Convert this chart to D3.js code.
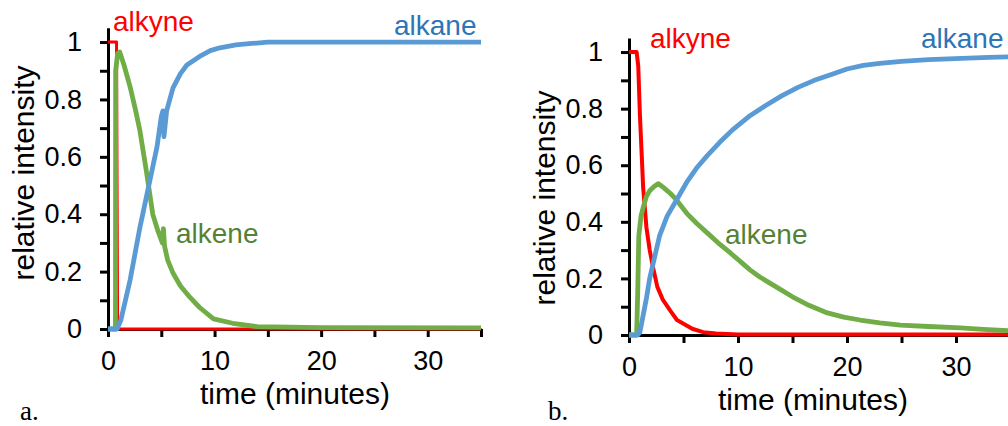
<!DOCTYPE html>
<html>
<head>
<meta charset="utf-8">
<script src="https://cdn.jsdelivr.net/npm/d3@7"></script>
<style>
  body { margin: 0; background: #fff; }
  text { font-family: "Liberation Sans", Arial, sans-serif; }
</style>
</head>
<body>
<div id="chart"></div>
<script>
// tick values and labels shared by both panels
const yTicks = [0, 0.1, 0.2, 0.3, 0.4, 0.5, 0.6, 0.7, 0.8, 0.9, 1];
const yTickLabels = ["0", "", "0.2", "", "0.4", "", "0.6", "", "0.8", "", "1"];
const xTicks = [0, 5, 10, 15, 20, 25, 30, 35];
const xTickLabels = ["0", "", "10", "", "20", "", "30", ""];

// panel a: time (minutes) and relative intensity
const alkyneA_t = [0, 0.8, 0.9, 1.0, 35];
const alkyneA = [1, 1, 0.02, 0, 0];

const alkeneA_t = [0, 0.7, 0.72, 0.9, 1.1, 1.5, 2.1, 2.6, 3.0, 3.6, 4.2, 4.7, 5.1, 5.2, 5.3, 5.6, 6.1, 6.8, 7.7, 8.6, 9.9, 11.7, 14, 20, 35];
const alkeneA = [0, 0, 0.9, 0.96, 0.965, 0.92, 0.84, 0.76, 0.69, 0.55, 0.4, 0.34, 0.3, 0.35, 0.29, 0.24, 0.195, 0.15, 0.11, 0.075, 0.035, 0.02, 0.008, 0.005, 0.004];

const alkaneA_t = [0, 0.85, 1.2, 2.07, 3.0, 3.8, 4.6, 5.0, 5.15, 5.25, 5.5, 6.1, 6.8, 7.4, 8.6, 9.6, 10.5, 12, 13.5, 15, 35];
const alkaneA = [0, 0, 0.03, 0.17, 0.355, 0.495, 0.635, 0.74, 0.76, 0.67, 0.76, 0.84, 0.89, 0.92, 0.95, 0.97, 0.98, 0.99, 0.995, 1.0, 1.0];

// panel b
const alkyneB_t = [0, 0.7, 0.85, 1.0, 1.3, 1.6, 1.9, 2.2, 2.6, 3.1, 3.8, 4.4, 5.0, 5.8, 6.8, 8, 10, 35];
const alkyneB = [1, 1, 0.95, 0.78, 0.52, 0.38, 0.3, 0.24, 0.17, 0.125, 0.085, 0.053, 0.04, 0.022, 0.01, 0.005, 0.002, 0.002];

const alkeneB_t = [0, 0.7, 0.8, 0.9, 1.1, 1.3, 1.6, 1.9, 2.3, 2.7, 3.2, 3.8, 4.3, 5.3, 6.2, 7.2, 8.2, 9.3, 10.2, 11.1, 12, 13.5, 15, 16.5, 18.2, 19.7, 21.2, 23, 24.9, 27.5, 30.4, 32.5, 35];
const alkeneB = [0, 0, 0.15, 0.35, 0.42, 0.45, 0.49, 0.51, 0.525, 0.535, 0.52, 0.5, 0.48, 0.43, 0.395, 0.36, 0.325, 0.29, 0.26, 0.23, 0.205, 0.17, 0.135, 0.105, 0.078, 0.063, 0.053, 0.043, 0.035, 0.03, 0.025, 0.02, 0.015];

const alkaneB_t = [0, 0.8, 1.0, 1.3, 1.6, 1.9, 2.2, 2.8, 3.5, 4.4, 5.3, 6.2, 7.2, 8.3, 9.5, 11.1, 12.5, 14, 15.5, 17, 18.5, 20, 21.5, 23, 25, 27.5, 30.5, 33, 35];
const alkaneB = [0, 0, 0.01, 0.07, 0.13, 0.2, 0.25, 0.35, 0.42, 0.48, 0.54, 0.59, 0.635, 0.68, 0.725, 0.775, 0.81, 0.845, 0.875, 0.9, 0.92, 0.94, 0.953, 0.96, 0.967, 0.973, 0.978, 0.981, 0.983];

const seriesNames = ["alkyne", "alkene", "alkane"];
const lineColors = { alkyne: "#ff0000", alkene: "#70ad47", alkane: "#5b9bd5" };
const textColors = { alkyne: "#ff0000", alkene: "#548235", alkane: "#2e75b6" };

function zip(t, v) {
  return t.map((d, i) => ({ t: d, v: v[i] }));
}

const svg = d3
  .select("#chart")
  .append("svg")
  .attr("width", 1008)
  .attr("height", 426);

function drawPanel(p) {
  const g = svg.append("g");

  const x = d3.scaleLinear().domain([0, 35]).range([p.x0, p.x1]);
  const y = d3.scaleLinear().domain([0, 1.05]).range([p.y0, p.y1]);

  // axes
  const xAxis = g
    .append("g")
    .attr("transform", "translate(0," + p.y0 + ")")
    .call(
      d3.axisBottom(x)
        .tickValues(xTicks)
        .tickFormat((d, i) => xTickLabels[i])
        .tickSize(8)
        .tickSizeOuter(0)
        .tickPadding(p.xPad)
    );

  const yAxis = g
    .append("g")
    .attr("transform", "translate(" + p.x0 + ",0)")
    .call(
      d3.axisLeft(y)
        .tickValues(yTicks)
        .tickFormat((d, i) => yTickLabels[i])
        .tickSize(8)
        .tickSizeOuter(0)
        .tickPadding(18)
    );

  [xAxis, yAxis].forEach((a) => {
    a.select(".domain").attr("stroke", "#000").attr("stroke-width", 3);
    a.selectAll(".tick line").attr("stroke", "#000").attr("stroke-width", 3);
    a.selectAll(".tick text")
      .attr("fill", "#000")
      .style("font-size", "27px")
      .style("font-family", "'Liberation Sans', Arial, sans-serif");
  });

  // titles
  g.append("text")
    .attr("x", p.xTitle[0])
    .attr("y", p.xTitle[1])
    .attr("text-anchor", "middle")
    .style("font-size", "30px")
    .text("time (minutes)");

  g.append("text")
    .attr("transform", "translate(" + p.yTitle[0] + "," + p.yTitle[1] + ") rotate(-90)")
    .attr("text-anchor", "middle")
    .attr("dy", "0.35em")
    .style("font-size", "30px")
    .text("relative intensity");

  // lines
  const line = d3
    .line()
    .x((d) => x(d.t))
    .y((d) => y(d.v));

  seriesNames.forEach((name) => {
    g.append("path")
      .datum(p.data[name])
      .attr("fill", "none")
      .attr("stroke", lineColors[name])
      .attr("stroke-width", name === "alkyne" ? p.redWidth : 4.8)
      .attr("stroke-linejoin", "round")
      .attr("d", line);
  });

  // series labels
  seriesNames.forEach((name) => {
    g.append("text")
      .attr("x", p.labels[name][0])
      .attr("y", p.labels[name][1])
      .attr("fill", textColors[name])
      .style("font-size", "28px")
      .text(name);
  });

  // panel letter
  g.append("text")
    .attr("x", p.letterPos[0])
    .attr("y", p.letterPos[1])
    .style("font-family", "'Liberation Serif', 'Times New Roman', serif")
    .style("font-size", "27px")
    .text(p.letter);
}

drawPanel({
  x0: 108, x1: 481, y0: 329, y1: 27.7,
  xPad: 14,
  redWidth: 3,
  data: {
    alkyne: zip(alkyneA_t, alkyneA),
    alkene: zip(alkeneA_t, alkeneA),
    alkane: zip(alkaneA_t, alkaneA),
  },
  labels: { alkyne: [113, 31], alkane: [394, 35], alkene: [176, 243] },
  xTitle: [295, 404],
  yTitle: [23, 173],
  letter: "a.",
  letterPos: [20, 420],
});

drawPanel({
  x0: 629, x1: 1010.5, y0: 335, y1: 37.9,
  xPad: 14,
  redWidth: 4,
  data: {
    alkyne: zip(alkyneB_t, alkyneB),
    alkene: zip(alkeneB_t, alkeneB),
    alkane: zip(alkaneB_t, alkaneB),
  },
  labels: { alkyne: [650, 48], alkane: [921, 48], alkene: [725, 244] },
  xTitle: [813, 410],
  yTitle: [544, 198],
  letter: "b.",
  letterPos: [548, 420],
});
</script>
</body>
</html>
